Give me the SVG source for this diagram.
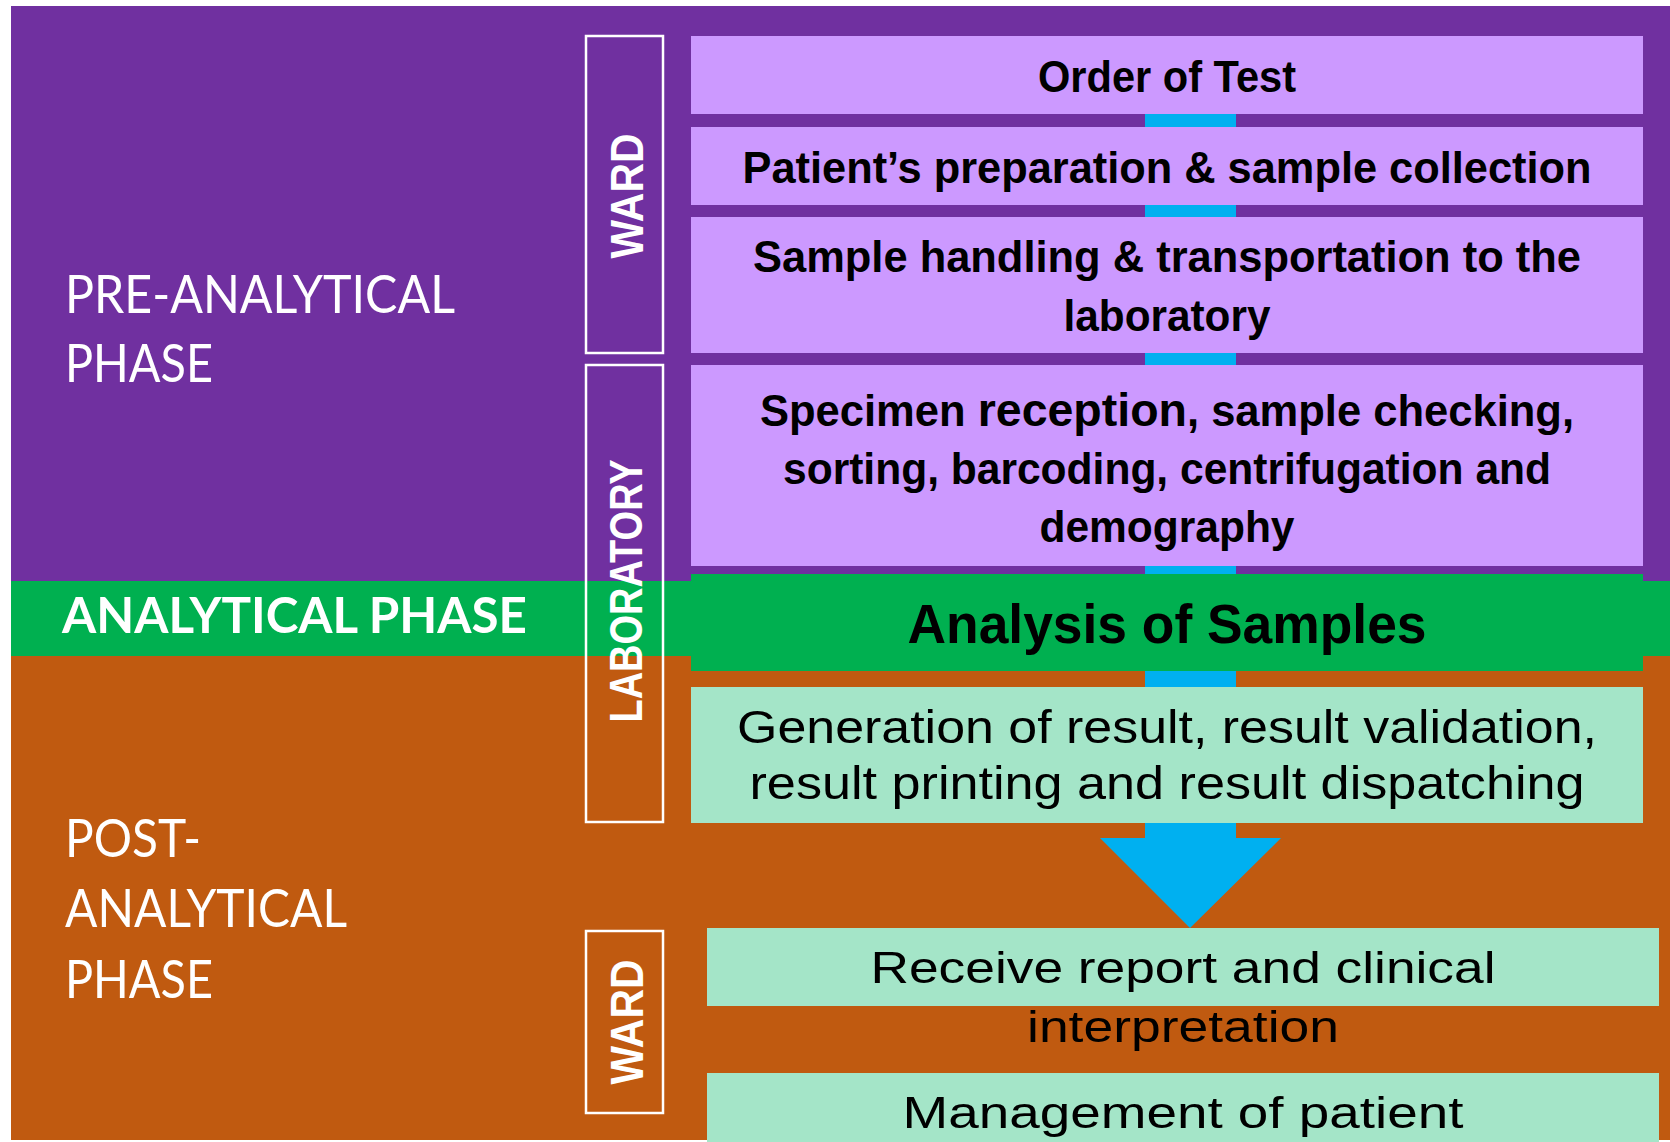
<svg xmlns="http://www.w3.org/2000/svg" width="1670" height="1142" viewBox="0 0 1670 1142">
<style>
.phase{font-family:Lato,"Liberation Sans",sans-serif;font-weight:400;font-size:53px;fill:#fff}
.phaseb{font-family:Lato,"Liberation Sans",sans-serif;font-weight:700;font-size:50px;fill:#fff}
.side{font-family:"Liberation Sans",Arial,sans-serif;font-weight:700;font-size:46px;fill:#fff;text-anchor:middle}
.sbox{fill:none;stroke:#fff;stroke-width:2.5}
.lav{fill:#CC99FF}
.mint{fill:#A4E5C8}
.tb{font-family:"Liberation Sans",Arial,sans-serif;font-weight:700;font-size:44px;fill:#000;text-anchor:middle}
.tr{font-family:"Liberation Sans",Arial,sans-serif;font-weight:400;font-size:46px;fill:#000;text-anchor:middle}
.big{font-size:56px}
.t45{font-size:45px}
.conn{fill:#00B0F0}
</style>
<rect x="0" y="0" width="1670" height="1142" fill="#fff"/>
<g id="bands">
<rect x="11" y="6" width="1659" height="575" fill="#7030A0"/>
<rect x="11" y="581" width="1659" height="75" fill="#00B050"/>
<rect x="11" y="656" width="1659" height="484" fill="#C05A10"/>
</g>
<g id="phase-labels">
<text class="phase" x="65" y="313" textLength="390" lengthAdjust="spacingAndGlyphs">PRE-ANALYTICAL</text>
<text class="phase" x="65" y="382" textLength="148" lengthAdjust="spacingAndGlyphs">PHASE</text>
<text class="phaseb" x="62" y="633" textLength="465" lengthAdjust="spacingAndGlyphs">ANALYTICAL PHASE</text>
<text class="phase" x="65" y="857" textLength="136" lengthAdjust="spacingAndGlyphs">POST-</text>
<text class="phase" x="65" y="927" textLength="282" lengthAdjust="spacingAndGlyphs">ANALYTICAL</text>
<text class="phase" x="65" y="998" textLength="148" lengthAdjust="spacingAndGlyphs">PHASE</text>
</g>
<g id="connectors">
<rect class="conn" x="1145" y="110" width="91" height="20"/>
<rect class="conn" x="1145" y="201" width="91" height="20"/>
<rect class="conn" x="1145" y="349" width="91" height="20"/>
<rect class="conn" x="1145" y="562" width="91" height="16"/>
<rect class="conn" x="1145" y="667" width="91" height="24"/>
<polygon class="conn" points="1145,819 1236,819 1236,838 1281,838 1190,928 1100,838 1145,838"/>
</g>
<g id="ward-top">
<rect class="sbox" x="586" y="36" width="77" height="317"/>
<text class="side" transform="translate(643,196) rotate(-90)" textLength="125" lengthAdjust="spacingAndGlyphs">WARD</text>
</g>
<g id="n1">
<rect class="lav" x="691" y="36" width="952" height="78"/>
<text class="tb" x="1167" y="92" textLength="258" lengthAdjust="spacingAndGlyphs">Order of Test</text>
</g>
<g id="n2">
<rect class="lav" x="691" y="127" width="952" height="78"/>
<text class="tb" x="1167" y="183" textLength="849" lengthAdjust="spacingAndGlyphs">Patient’s preparation &amp; sample collection</text>
</g>
<g id="n3">
<rect class="lav" x="691" y="217" width="952" height="136"/>
<text class="tb" x="1167" y="272" textLength="828" lengthAdjust="spacingAndGlyphs">Sample handling &amp; transportation to the</text>
<text class="tb" x="1167" y="331" textLength="207" lengthAdjust="spacingAndGlyphs">laboratory</text>
</g>
<g id="n4">
<rect class="lav" x="691" y="365" width="952" height="201"/>
<text class="tb" x="1167" y="426" textLength="814" lengthAdjust="spacingAndGlyphs">Specimen <tspan style="font-size:47px">reception</tspan>, sample checking,</text>
<text class="tb" x="1167" y="484" textLength="768" lengthAdjust="spacingAndGlyphs">sorting, barcoding, centrifugation and</text>
<text class="tb" x="1167" y="542" textLength="255" lengthAdjust="spacingAndGlyphs">demography</text>
</g>
<g id="lab">
<rect class="sbox" x="586" y="365" width="77" height="457"/>
<text class="side" transform="translate(642,591) rotate(-90)" textLength="263" lengthAdjust="spacingAndGlyphs">LABORATORY</text>
</g>
<g id="n5">
<rect x="691" y="574" width="952" height="97" fill="#00B050"/>
<text class="tb big" x="1167" y="643" textLength="519" lengthAdjust="spacingAndGlyphs">Analysis of Samples</text>
</g>
<g id="n6">
<rect class="mint" x="691" y="687" width="952" height="136"/>
<text class="tr" x="1167" y="743" textLength="860" lengthAdjust="spacingAndGlyphs">Generation of result, result validation,</text>
<text class="tr" x="1167" y="799" textLength="835" lengthAdjust="spacingAndGlyphs">result printing and result dispatching</text>
</g>
<g id="ward-bottom">
<rect class="sbox" x="586" y="931" width="77" height="182"/>
<text class="side" transform="translate(643,1022) rotate(-90)" textLength="125" lengthAdjust="spacingAndGlyphs">WARD</text>
</g>
<g id="n7">
<rect class="mint" x="707" y="928" width="952" height="78"/>
<text class="tr t45" x="1183" y="983" textLength="625" lengthAdjust="spacingAndGlyphs">Receive report and clinical</text>
<text class="tr t45" x="1183" y="1042" textLength="312" lengthAdjust="spacingAndGlyphs">interpretation</text>
</g>
<g id="n8">
<rect class="mint" x="707" y="1073" width="952" height="69"/>
<text class="tr t45" x="1183" y="1128" textLength="561" lengthAdjust="spacingAndGlyphs">Management of patient</text>
</g>
</svg>
